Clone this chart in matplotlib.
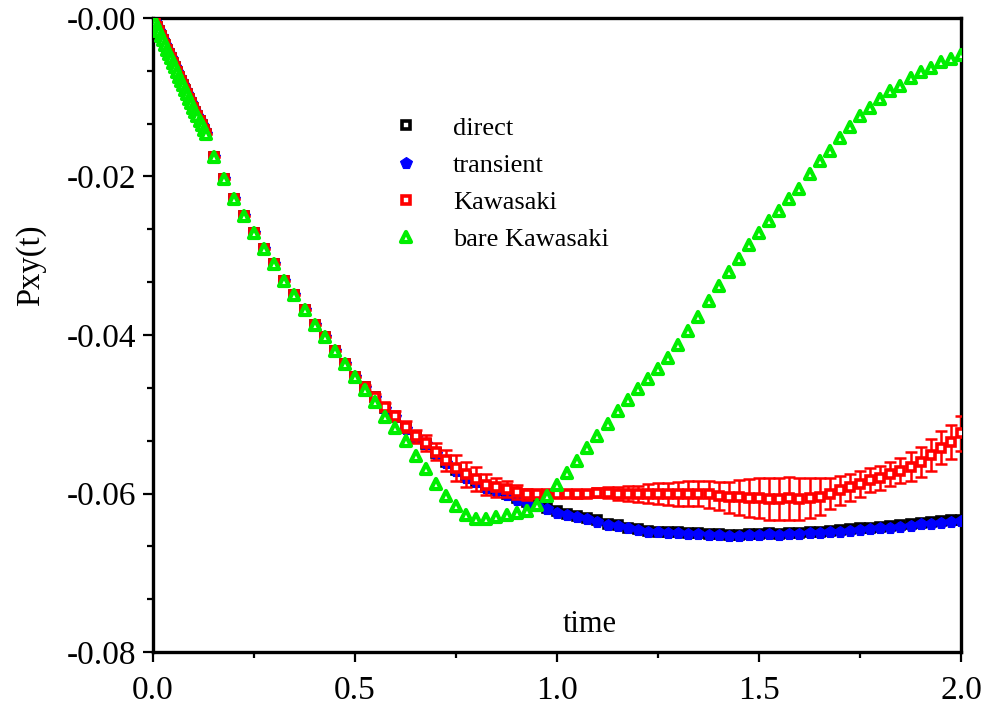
"""
Pxy(t) relaxation: direct vs transient vs Kawasaki vs bare Kawasaki
"""

import matplotlib
matplotlib.use("Agg")
import matplotlib.pyplot as plt
from matplotlib.markers import MarkerStyle
from matplotlib.ticker import AutoMinorLocator

plt.rcParams["font.family"] = ["Liberation Serif", "DejaVu Serif"]

# ── Data ──────────────────────────────────────────────────────────────────────

# shared early part: all four estimators coincide here
t_head = [0.000, 0.005, 0.010, 0.015, 0.020, 0.025, 0.030, 0.035, 0.040,
          0.045, 0.050, 0.055, 0.060, 0.065, 0.070, 0.075, 0.080, 0.085,
          0.090, 0.095, 0.100, 0.105, 0.110, 0.115, 0.120, 0.125, 0.130,
          0.150, 0.175, 0.200, 0.225, 0.250, 0.275, 0.300, 0.325, 0.350,
          0.375, 0.400, 0.425, 0.450, 0.475, 0.500]
p_head = [0.0000, -0.0005, -0.0011, -0.0017, -0.0023, -0.0028, -0.0034,
          -0.0040, -0.0045, -0.0051, -0.0057, -0.0062, -0.0068, -0.0074,
          -0.0079, -0.0085, -0.0091, -0.0096, -0.0102, -0.0107, -0.0113,
          -0.0119, -0.0124, -0.0130, -0.0135, -0.0141, -0.0147,
          -0.0176, -0.0203, -0.0228, -0.0250, -0.0271, -0.0291, -0.0311,
          -0.0332, -0.0350, -0.0368, -0.0388, -0.0403, -0.0420, -0.0437,
          -0.0453]

t_tail = [0.525, 0.550, 0.575, 0.600, 0.625, 0.650, 0.675, 0.700, 0.725, 0.750,
          0.775, 0.800, 0.825, 0.850, 0.875, 0.900, 0.925, 0.950, 0.975, 1.000,
          1.025, 1.050, 1.075, 1.100, 1.125, 1.150, 1.175, 1.200, 1.225, 1.250,
          1.275, 1.300, 1.325, 1.350, 1.375, 1.400, 1.425, 1.450, 1.475, 1.500,
          1.525, 1.550, 1.575, 1.600, 1.625, 1.650, 1.675, 1.700, 1.725, 1.750,
          1.775, 1.800, 1.825, 1.850, 1.875, 1.900, 1.925, 1.950, 1.975, 2.000]

direct_tail = [-0.0466, -0.0478, -0.0492, -0.0503, -0.0517, -0.0529, -0.0537, -0.0549, -0.0560, -0.0570,
               -0.0579, -0.0585, -0.0592, -0.0596, -0.0600, -0.0606, -0.0611, -0.0615, -0.0618, -0.0622,
               -0.0626, -0.0629, -0.0631, -0.0634, -0.0638, -0.0640, -0.0643, -0.0645, -0.0647, -0.0648,
               -0.0649, -0.0649, -0.0650, -0.0650, -0.0651, -0.0651, -0.0652, -0.0652, -0.0651, -0.0651,
               -0.0650, -0.0651, -0.0650, -0.0650, -0.0649, -0.0648, -0.0647, -0.0646, -0.0645, -0.0644,
               -0.0643, -0.0642, -0.0641, -0.0640, -0.0639, -0.0637, -0.0636, -0.0635, -0.0634, -0.0633]

transient_tail = [-0.0467, -0.0479, -0.0493, -0.0504, -0.0518, -0.0530, -0.0538, -0.0550, -0.0561, -0.0571,
                  -0.0580, -0.0586, -0.0593, -0.0597, -0.0602, -0.0608, -0.0613, -0.0616, -0.0619, -0.0624,
                  -0.0627, -0.0630, -0.0632, -0.0636, -0.0640, -0.0641, -0.0644, -0.0646, -0.0648, -0.0649,
                  -0.0650, -0.0650, -0.0651, -0.0651, -0.0652, -0.0652, -0.0653, -0.0653, -0.0652, -0.0652,
                  -0.0651, -0.0652, -0.0651, -0.0651, -0.0650, -0.0650, -0.0649, -0.0648, -0.0647, -0.0646,
                  -0.0645, -0.0644, -0.0643, -0.0642, -0.0641, -0.0639, -0.0638, -0.0637, -0.0636, -0.0635]

kawasaki_tail = [-0.0466, -0.0478, -0.0491, -0.0502, -0.0516, -0.0528, -0.0536, -0.0547, -0.0558, -0.0568,
                 -0.0576, -0.0582, -0.0589, -0.0592, -0.0594, -0.0598, -0.0601, -0.0601, -0.0600, -0.0601,
                 -0.0600, -0.0601, -0.0600, -0.0599, -0.0599, -0.0600, -0.0600, -0.0601, -0.0600, -0.0600,
                 -0.0601, -0.0601, -0.0600, -0.0600, -0.0601, -0.0603, -0.0605, -0.0605, -0.0606, -0.0606,
                 -0.0607, -0.0607, -0.0606, -0.0607, -0.0606, -0.0604, -0.0600, -0.0596, -0.0592, -0.0588,
                 -0.0583, -0.0580, -0.0575, -0.0571, -0.0566, -0.0560, -0.0551, -0.0542, -0.0535, -0.0524]

kawasaki_err = [0.0003, 0.0004, 0.0005, 0.0006, 0.0007, 0.0008, 0.0010, 0.0011, 0.0013, 0.0016,
                0.0016, 0.0015, 0.0013, 0.0012, 0.0010, 0.0009, 0.0007, 0.0005, 0.0004, 0.0004,
                0.0004, 0.0005, 0.0005, 0.0006, 0.0007, 0.0008, 0.0009, 0.0010, 0.0012, 0.0013,
                0.0014, 0.0015, 0.0016, 0.0016, 0.0017, 0.0018, 0.0020, 0.0022, 0.0024, 0.0025,
                0.0026, 0.0027, 0.0027, 0.0026, 0.0025, 0.0023, 0.0020, 0.0018, 0.0017, 0.0016,
                0.0015, 0.0015, 0.0015, 0.0016, 0.0018, 0.0019, 0.0020, 0.0021, 0.0022, 0.0022]

bare_tail = [-0.0470, -0.0484, -0.0503, -0.0517, -0.0534, -0.0553, -0.0569, -0.0588, -0.0603, -0.0616,
             -0.0627, -0.0632, -0.0632, -0.0630, -0.0627, -0.0625, -0.0622, -0.0614, -0.0603, -0.0589,
             -0.0574, -0.0559, -0.0543, -0.0527, -0.0512, -0.0496, -0.0482, -0.0468, -0.0456, -0.0443,
             -0.0429, -0.0412, -0.0395, -0.0377, -0.0357, -0.0338, -0.0320, -0.0304, -0.0287, -0.0271,
             -0.0256, -0.0244, -0.0228, -0.0216, -0.0197, -0.0180, -0.0168, -0.0151, -0.0138, -0.0124,
             -0.0114, -0.0102, -0.0092, -0.0086, -0.0076, -0.0068, -0.0063, -0.0056, -0.0052, -0.0047]

x_ticks = [0.0, 0.5, 1.0, 1.5, 2.0]
x_tick_labels = ["0.0", "0.5", "1.0", "1.5", "2.0"]
y_ticks = [0.00, -0.02, -0.04, -0.06, -0.08]
y_tick_labels = ["-0.00", "-0.02", "-0.04", "-0.06", "-0.08"]

# ── Plot ──────────────────────────────────────────────────────────────────────

GREEN = "#00ee00"


def main():
    fig = plt.figure(figsize=(9.88, 7.02), dpi=100, facecolor="white")
    ax = fig.add_axes([0.1549, 0.0712, 0.8178, 0.9032])

    t = t_head + t_tail
    direct = p_head + direct_tail
    transient = p_head + transient_tail
    kawasaki = p_head + kawasaki_tail
    bare = p_head + bare_tail
    k_err = [0.0] * len(t_head) + kawasaki_err

    sq = dict(marker="s", linestyle="none", markersize=5.5, markeredgewidth=2.6,
              markerfacecolor="white")
    ax.plot(t, direct, color="black", label="direct", zorder=2, **sq)
    ax.plot(t, transient, linestyle="none", marker="p", markersize=8.5,
            color="#0000ff", markeredgewidth=0.8, label="transient", zorder=3)
    ax.errorbar(t, kawasaki, yerr=k_err, fmt="none", ecolor="red",
                elinewidth=1.8, capsize=4, capthick=1.8, zorder=4)
    ax.plot(t, kawasaki, color="red", label="Kawasaki", zorder=5, **sq)
    ax.plot(t, bare, linestyle="none",
            marker=MarkerStyle("^", joinstyle="round"), markersize=6.5,
            markeredgewidth=3.0, color=GREEN, markerfacecolor="white",
            label="bare Kawasaki", zorder=6)

    ax.set_xlim(0.0, 2.0)
    ax.set_ylim(-0.08, 0.0)
    ax.set_xticks(x_ticks)
    ax.set_xticklabels(x_tick_labels)
    ax.set_yticks(y_ticks)
    ax.set_yticklabels(y_tick_labels)
    ax.xaxis.set_minor_locator(AutoMinorLocator(2))
    ax.yaxis.set_minor_locator(AutoMinorLocator(3))
    ax.tick_params(which="major", direction="out", length=7, width=1.6,
                   labelsize=24, pad=5)
    ax.tick_params(axis="x", which="major", pad=10)
    ax.tick_params(which="minor", direction="out", length=4, width=1.6)

    for s in ax.spines.values():
        s.set_linewidth(2.4)

    ax.text(0.541, 0.043, "time", transform=ax.transAxes, fontsize=22,
            ha="center", va="center")
    ax.text(-0.152, 0.61, "Pxy(t)", transform=ax.transAxes, fontsize=23.5,
            ha="center", va="center", rotation=90)

    ax.legend(loc="upper left", bbox_to_anchor=(0.297, 0.845), frameon=False,
              fontsize=19, handlelength=1.0, handletextpad=1.28,
              labelspacing=0.52, borderpad=0, borderaxespad=0, numpoints=1)

    fig.savefig("out.png", dpi=100, facecolor="white")


if __name__ == "__main__":
    main()
